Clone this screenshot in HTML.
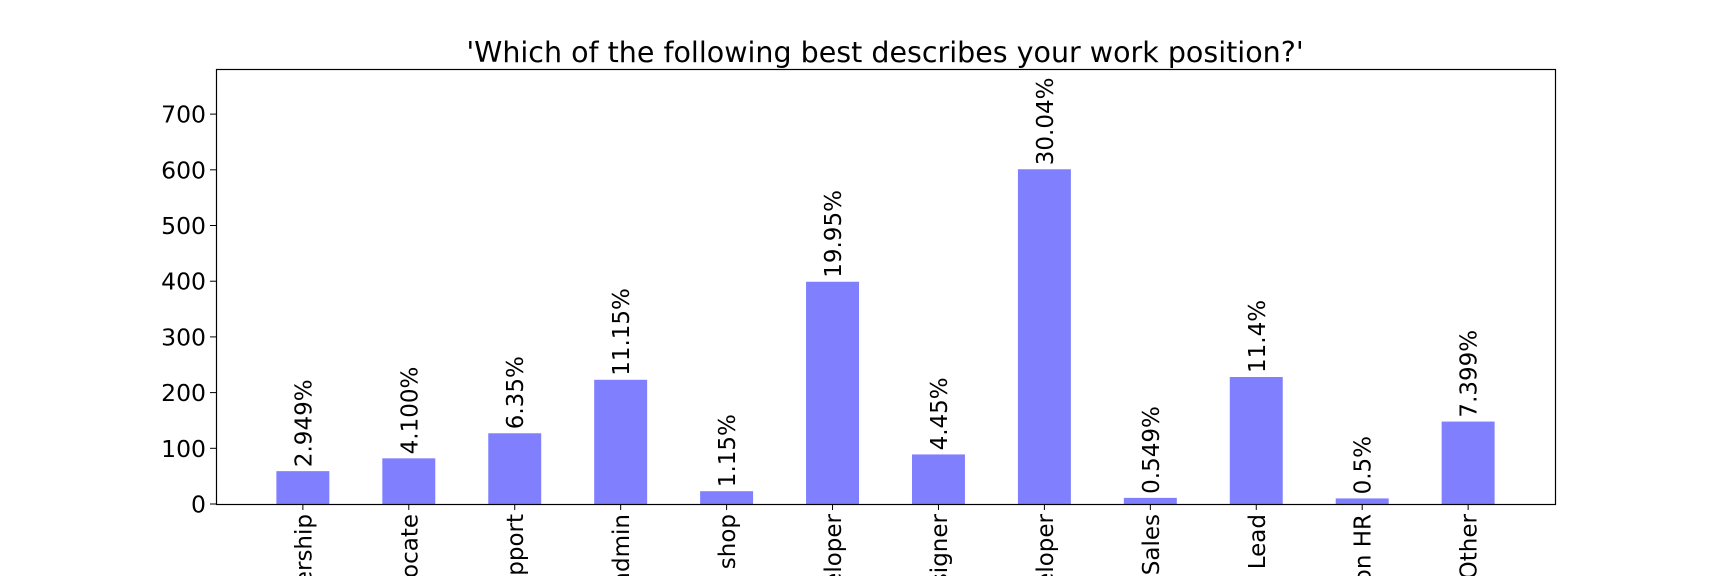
<!DOCTYPE html>
<html><head><meta charset="utf-8"><style>
html,body{margin:0;background:#fff;width:1728px;height:576px;overflow:hidden}
svg{display:block}
svg text{font-family:"DejaVu Sans","Liberation Sans",sans-serif;fill:#000}
</style></head><body>
<svg id="chart" width="1728" height="576" xmlns="http://www.w3.org/2000/svg">
<rect width="1728" height="576" fill="#fff"/>
<text x="885" y="62" font-size="28.5" text-anchor="middle">'Which of the following best describes your work position?'</text>
<g id="bars"></g>
<g id="yaxis"></g>
<g id="xaxis"></g>
<rect x="216.5" y="69.5" width="1339" height="435" fill="none" stroke="#000" stroke-width="1.2"/>
</svg>
<script>
const categories = ["Executive Leadership","Developer Advocate","Support","Sysadmin","One-person shop","Back-end Developer","Designer","Full-stack Developer","Sales","Team Lead","Position on HR","Other"];
const values = [59, 82, 127, 223, 23, 399, 89, 601, 11, 228, 10, 148];
const pctLabels = ["2.949%","4.100%","6.35%","11.15%","1.15%","19.95%","4.45%","30.04%","0.549%","11.4%","0.5%","7.399%"];
const yTicks = [0,100,200,300,400,500,600,700];

const NS="http://www.w3.org/2000/svg";
const L=216, R=1555, T=69, B=504;
const xMin=-0.82, xMax=11.82, yMax=781;
const xs=v=>L+(v-xMin)/(xMax-xMin)*(R-L);
const ys=v=>B-v/yMax*(B-T);
const bw=(xs(0.5)-xs(0));
function mk(tag,attrs,parent){const e=document.createElementNS(NS,tag);for(const k in attrs)e.setAttribute(k,attrs[k]);parent.appendChild(e);return e;}
const gb=document.getElementById('bars'), gy=document.getElementById('yaxis'), gx=document.getElementById('xaxis');
values.forEach((v,i)=>{
  const cx=xs(i);
  const r=mk('rect',{x:cx-bw/2,y:ys(v),width:bw,height:B-ys(v),fill:'#8080ff'},gb);
  
  
  const t=mk('text',{transform:`translate(${cx+8.5},${ys(v)-4}) rotate(-90)`,'font-size':23,'text-anchor':'start'},gb);
  t.textContent=pctLabels[i];
  
  
  mk('line',{x1:cx,x2:cx,y1:B,y2:B+6,stroke:'#000','stroke-width':1},gx);
  const xl=mk('text',{transform:`translate(${cx+8.5},${B+10}) rotate(-90)`,'font-size':23,'text-anchor':'end'},gx);
  xl.textContent=categories[i];
  
  
});
yTicks.forEach(v=>{
  const y=ys(v);
  mk('line',{x1:L-6,x2:L,y1:y,y2:y,stroke:'#000','stroke-width':1},gy);
  const t=mk('text',{x:L-10,y:y+8.5,'font-size':23.5,'text-anchor':'end'},gy);
  t.textContent=v;
  
  
});
</script>
</body></html>
